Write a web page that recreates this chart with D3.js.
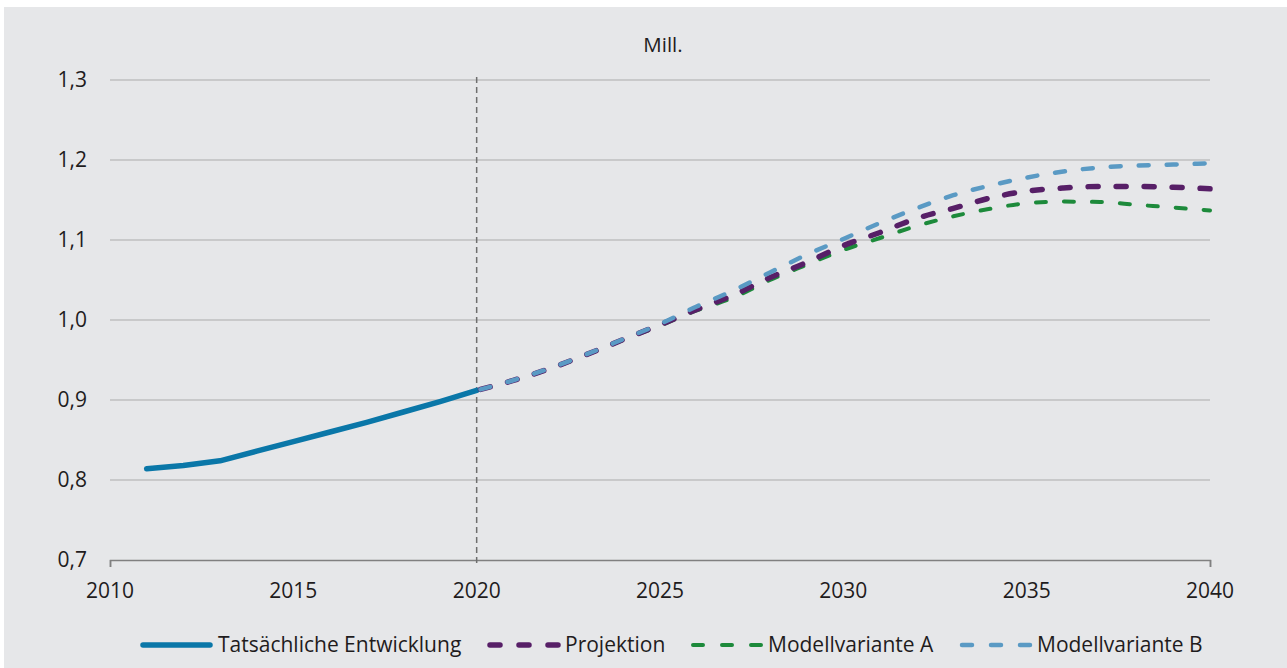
<!DOCTYPE html>
<html><head><meta charset="utf-8">
<script src="https://cdn.jsdelivr.net/npm/d3@7"></script>
<style>
html,body{margin:0;padding:0;background:#fff;}
svg{display:block;}
text{font-family:"Open Sans",sans-serif;fill:#1f1c1d;}
</style></head>
<body><svg id="c" width="1287" height="668"></svg>
<script>
const actualYears = [2011,2012,2013,2014,2015,2016,2017,2018,2019,2020];
const actualValues = [0.814,0.818,0.824,0.836,0.848,0.860,0.872,0.885,0.898,0.912];
const projYears = [2020,2021,2022,2023,2024,2025,2026,2027,2028,2029,2030,2031,2032,2033,2034,2035,2036,2037,2038,2039,2040];
const projektion = [0.912,0.9245,0.9394,0.9569,0.9756,0.994,1.0131,1.031,1.053,1.0719,1.0929,1.1094,1.127,1.1395,1.1525,1.161,1.165,1.167,1.167,1.166,1.164];
const variantA   = [0.912,0.9243,0.9391,0.9565,0.975,0.993,1.0119,1.028,1.050,1.069,1.0875,1.1025,1.1175,1.1296,1.139,1.146,1.148,1.1475,1.144,1.1406,1.137];
const variantB   = [0.912,0.9247,0.9397,0.9572,0.976,0.995,1.0169,1.0369,1.0594,1.0816,1.1013,1.1213,1.1396,1.156,1.168,1.178,1.1856,1.1906,1.193,1.1943,1.1959];
const yTicks = [0.7,0.8,0.9,1.0,1.1,1.2,1.3];
const xTicks = [2010,2015,2020,2025,2030,2035,2040];
const legendLabels = ["Tatsächliche Entwicklung","Projektion","Modellvariante A","Modellvariante B"];
const unitLabel = "Mill.";

const svg = d3.select("#c");
svg.append("rect").attr("x",4).attr("y",7).attr("width",1283).attr("height",661).attr("fill","#e6e7e9");

const x = d3.scaleLinear().domain([2010,2040]).range([110,1210]);
const y = d3.scaleLinear().domain([0.7,1.3]).range([560,80]);
const fmt = v => d3.format(".1f")(v).replace(".",",");

// gridlines
svg.append("g").selectAll("line").data(yTicks.filter(d=>d>0.7)).join("line")
  .attr("x1",110).attr("x2",1210).attr("y1",d=>y(d)).attr("y2",d=>y(d))
  .attr("stroke","#ababab").attr("stroke-width",1);

// y labels
svg.append("g").selectAll("text").data(yTicks).join("text")
  .attr("x",87).attr("y",d=>y(d)).attr("dy","0.35em").attr("text-anchor","end")
  .attr("font-size",21).text(fmt);

// x axis
const xAxis = d3.axisBottom(x).tickValues([2010,2040]).tickSize(7).tickFormat("");
const gx = svg.append("g").attr("transform","translate(0,560)").call(xAxis);
gx.select(".domain").attr("stroke","#808080").attr("stroke-width",1.5);
gx.selectAll(".tick line").attr("stroke","#808080").attr("stroke-width",1.5);
svg.append("g").selectAll("text").data(xTicks).join("text")
  .attr("x",d=>x(d)).attr("y",598).attr("text-anchor","middle").attr("font-size",21).text(d=>d);

// unit label
svg.append("text").attr("x",663).attr("y",52).attr("text-anchor","middle").attr("font-size",20.5).text(unitLabel);

// vertical dashed line at 2020
svg.append("line").attr("x1",x(2020)).attr("x2",x(2020)).attr("y1",77).attr("y2",567)
  .attr("stroke","#6e6e6e").attr("stroke-width",1.5).attr("stroke-dasharray","6,4");

const line = d3.line().x(d=>x(d[0])).y(d=>y(d[1])).curve(d3.curveMonotoneX);
const lineLin = d3.line().x(d=>x(d[0])).y(d=>y(d[1]));

svg.append("path").datum(actualYears.map((d,i)=>[d,actualValues[i]]))
  .attr("d",lineLin).attr("fill","none").attr("stroke","#0a77a8").attr("stroke-width",5.5)
  .attr("stroke-linecap","round").attr("stroke-linejoin","round");

const series = [
  {vals: variantA, color:"#1d8a3b", w:4, dash:"10,18"},
  {vals: projektion, color:"#571f67", w:5.5, dash:"10,18"},
  {vals: variantB, color:"#5a9ac4", w:4.5, dash:"10,18"}
];
series.forEach(s=>{
  svg.append("path").datum(projYears.map((d,i)=>[d,s.vals[i]]))
    .attr("d",line).attr("fill","none").attr("stroke",s.color).attr("stroke-width",s.w)
    .attr("stroke-dasharray",s.dash).attr("stroke-linecap","round").attr("stroke-dashoffset",-4);
});

// legend
const lg = svg.append("g");
const ly = 645;
lg.append("line").attr("x1",143).attr("x2",210).attr("y1",ly).attr("y2",ly)
  .attr("stroke","#0a77a8").attr("stroke-width",5.5).attr("stroke-linecap","round");
lg.append("text").attr("x",218).attr("y",ly).attr("dy","0.35em").attr("font-size",21).text(legendLabels[0]);
const legItems = [
  {x0:490, x1:558, tx:565, color:"#571f67", w:5.5, label:legendLabels[1]},
  {x0:693, x1:761, tx:768, color:"#1d8a3b", w:4, label:legendLabels[2]},
  {x0:962, x1:1030, tx:1037, color:"#5a9ac4", w:4.5, label:legendLabels[3]}
];
legItems.forEach(it=>{
  lg.append("line").attr("x1",it.x0).attr("x2",it.x1).attr("y1",ly).attr("y2",ly)
    .attr("stroke",it.color).attr("stroke-width",it.w).attr("stroke-linecap","round").attr("stroke-dasharray","10,19");
  lg.append("text").attr("x",it.tx).attr("y",ly).attr("dy","0.35em").attr("font-size",21).text(it.label);
});
</script></body></html>
